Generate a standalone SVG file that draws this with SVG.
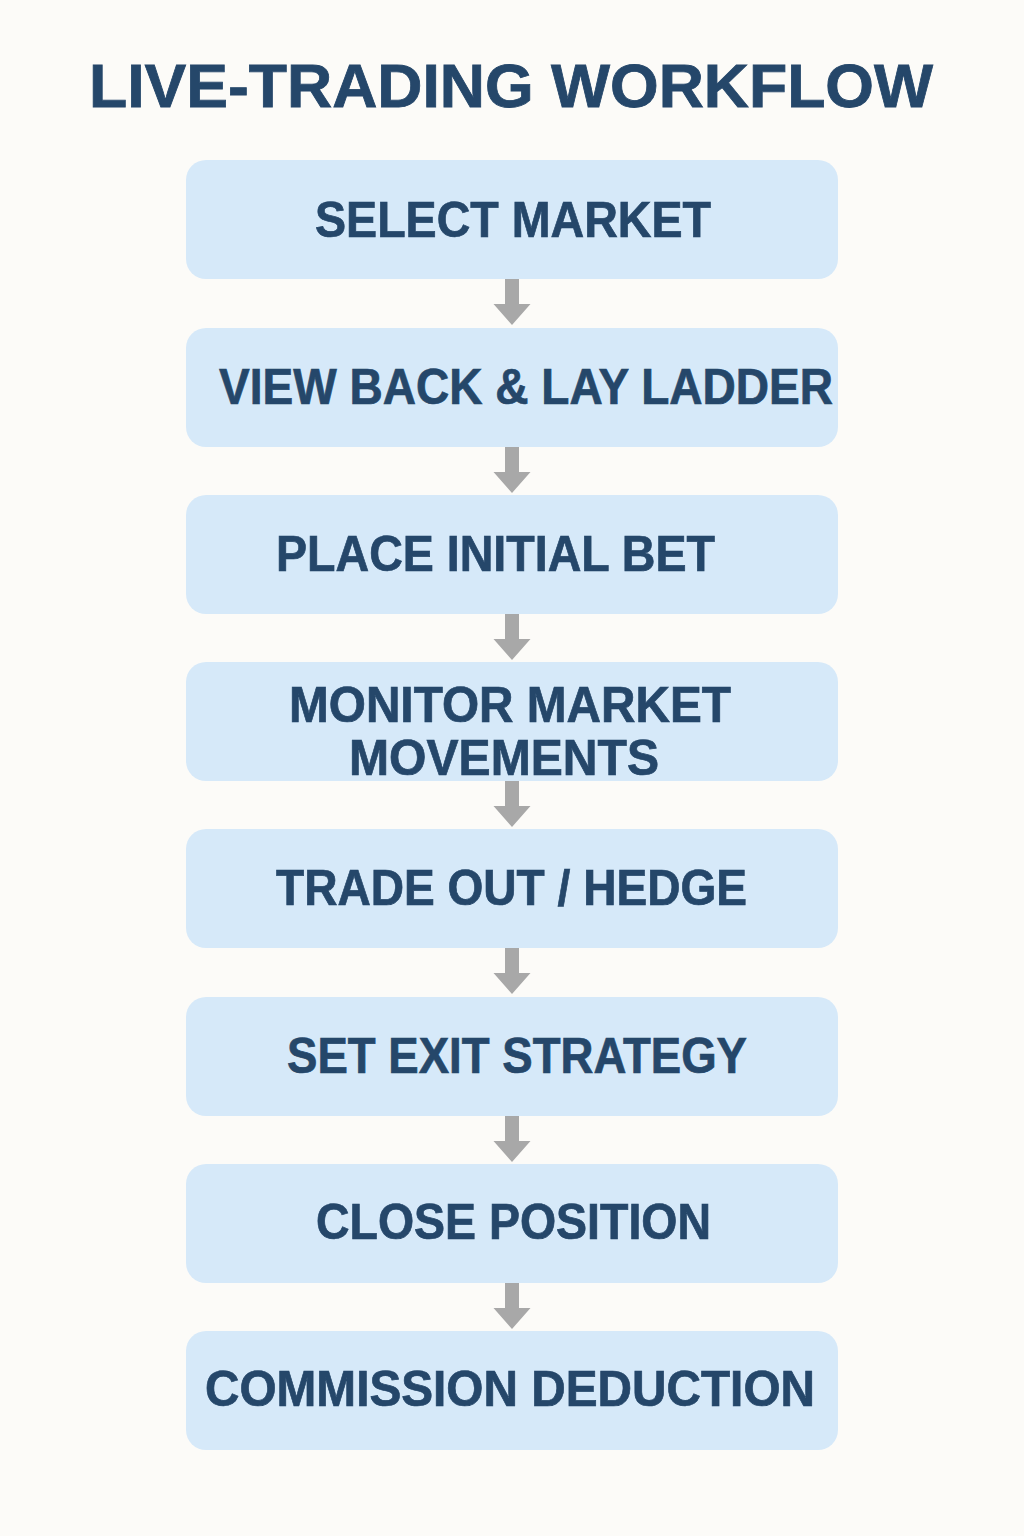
<svg xmlns="http://www.w3.org/2000/svg" width="1024" height="1536" viewBox="0 0 1024 1536">
<defs>
<style>
.bg{fill:#fcfbf8}
.box{fill:#d6e9f9}
.lbl{font-family:"Liberation Sans",Arial,sans-serif;font-weight:bold;font-size:50px;fill:#25476a;stroke:#25476a;stroke-width:0.7px}
.title{font-family:"Liberation Sans",Arial,sans-serif;font-weight:bold;font-size:61px;fill:#25476a;stroke:#25476a;stroke-width:0.8px}
.arr{fill:#a8a8a8}
</style>
</defs>
<rect class="bg" x="0" y="0" width="1024" height="1536"/>
<text id="title" class="title" x="89" y="107" textLength="844" lengthAdjust="spacingAndGlyphs">LIVE-TRADING WORKFLOW</text>
<g id="connectors">
<path class="arr" d="M505,279 H519 V304 H530.5 L512,325 L493.5,304 H505 Z"/>
<path class="arr" d="M505,447 H519 V472 H530.5 L512,493 L493.5,472 H505 Z"/>
<path class="arr" d="M505,614 H519 V639 H530.5 L512,660 L493.5,639 H505 Z"/>
<path class="arr" d="M505,781 H519 V806 H530.5 L512,827 L493.5,806 H505 Z"/>
<path class="arr" d="M505,948 H519 V973 H530.5 L512,994 L493.5,973 H505 Z"/>
<path class="arr" d="M505,1116 H519 V1141 H530.5 L512,1162 L493.5,1141 H505 Z"/>
<path class="arr" d="M505,1283 H519 V1308 H530.5 L512,1329 L493.5,1308 H505 Z"/>
</g>
<g id="n1"><rect class="box" x="186" y="160" width="652" height="119" rx="20"/><text class="lbl" x="315" y="237" textLength="396" lengthAdjust="spacingAndGlyphs">SELECT MARKET</text></g>
<g id="n2"><rect class="box" x="186" y="328" width="652" height="119" rx="20"/><text class="lbl" x="219" y="404" textLength="614" lengthAdjust="spacingAndGlyphs">VIEW BACK &amp; LAY LADDER</text></g>
<g id="n3"><rect class="box" x="186" y="495" width="652" height="119" rx="20"/><text class="lbl" x="276" y="571" textLength="439" lengthAdjust="spacingAndGlyphs">PLACE INITIAL BET</text></g>
<g id="n4"><rect class="box" x="186" y="662" width="652" height="119" rx="20"/><text class="lbl" x="289" y="722" textLength="442" lengthAdjust="spacingAndGlyphs">MONITOR MARKET</text><text class="lbl" x="349" y="775" textLength="310" lengthAdjust="spacingAndGlyphs">MOVEMENTS</text></g>
<g id="n5"><rect class="box" x="186" y="829" width="652" height="119" rx="20"/><text class="lbl" x="276" y="905" textLength="471" lengthAdjust="spacingAndGlyphs">TRADE OUT / HEDGE</text></g>
<g id="n6"><rect class="box" x="186" y="997" width="652" height="119" rx="20"/><text class="lbl" x="287" y="1073" textLength="460" lengthAdjust="spacingAndGlyphs">SET EXIT STRATEGY</text></g>
<g id="n7"><rect class="box" x="186" y="1164" width="652" height="119" rx="20"/><text class="lbl" x="316" y="1239" textLength="395" lengthAdjust="spacingAndGlyphs">CLOSE POSITION</text></g>
<g id="n8"><rect class="box" x="186" y="1331" width="652" height="119" rx="20"/><text class="lbl" x="205" y="1406" textLength="610" lengthAdjust="spacingAndGlyphs">COMMISSION DEDUCTION</text></g>
</svg>
